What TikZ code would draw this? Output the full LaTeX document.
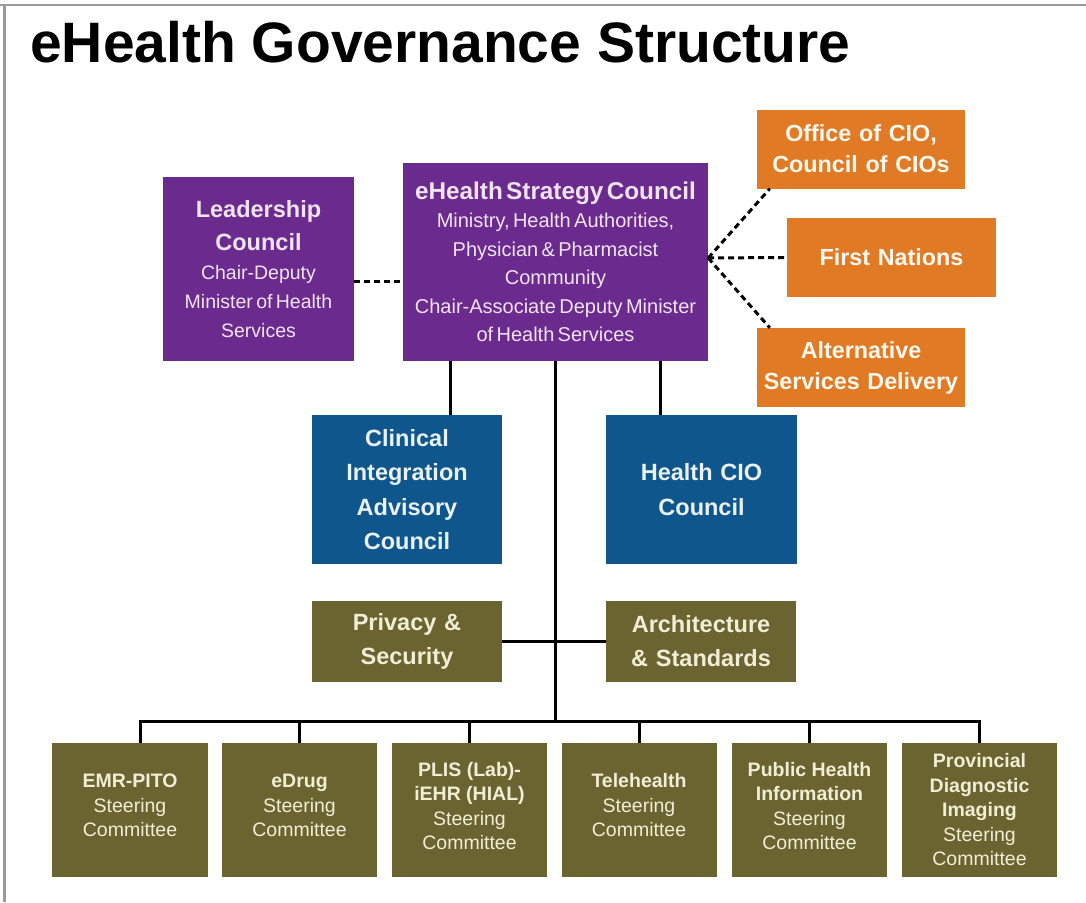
\documentclass[tikz,border=0pt]{standalone}
\usepackage{fontspec}
\setmainfont{Liberation Sans}
\definecolor{cpurple}{HTML}{6A2A8E}
\definecolor{corange}{HTML}{E07A24}
\definecolor{cblue}{HTML}{0E568C}
\definecolor{colive}{HTML}{6A6430}
\definecolor{tpurple}{HTML}{F0E4F2}
\definecolor{torange}{HTML}{FFF8EE}
\definecolor{tblue}{HTML}{EAF2F8}
\definecolor{tolive}{HTML}{F2EDD5}
\definecolor{frame}{HTML}{9A9A9A}
\newcommand{\tbig}{\fontsize{23.5}{33}\selectfont\bfseries}
\newcommand{\tsub}{\fontsize{19.5}{29}\selectfont\mdseries}
\newcommand{\tbot}{\fontsize{19.5}{24.5}\selectfont\bfseries}
\newcommand{\tbotsub}{\fontsize{19.5}{24.5}\selectfont\mdseries}
\newcommand{\botbox}[2]{\raisebox{0pt}[\height][\dimexpr\depth+#1\relax]{\parbox{150pt}{\centering #2\par}}}
\tikzset{
  orgbox/.style={rectangle, inner sep=0pt, align=center},
  pbox/.style={orgbox, fill=cpurple, text=tpurple},
  obox/.style={orgbox, fill=corange, text=torange, minimum width=208pt, minimum height=79pt, text width=200pt, font=\fontsize{23.3}{31}\selectfont\bfseries},
  bbox/.style={orgbox, fill=cblue, text=tblue, minimum width=190pt, minimum height=149pt, text width=184pt, font=\fontsize{23.5}{34.5}\selectfont\bfseries},
  mbox/.style={orgbox, fill=colive, text=tolive, minimum width=190pt, minimum height=81pt, text width=184pt, font=\fontsize{23.5}{34}\selectfont\bfseries},
  sbox/.style={rectangle, inner sep=0pt, fill=colive, text=tolive, minimum width=155pt, minimum height=134pt},
  link/.style={black, line width=3pt},
  dlink/.style={black, line width=3pt, dash pattern=on 6pt off 4pt},
}
\begin{document}
\begin{tikzpicture}[x=1pt, y=-1pt]
\useasboundingbox (0,0) rectangle (1086,902);
\fill[white] (0,0) rectangle (1086,902);
% frame
\draw[frame, line width=2.5pt] (0,5) -- (1086,5);
\draw[frame, line width=2.5pt] (4.5,5) -- (4.5,902);
% title
\node[anchor=base west, inner sep=0pt, font=\fontsize{57}{60}\selectfont\bfseries] (title) at (30,62) {eHealth Governance Structure};
% purple
\node[pbox, minimum width=191pt, minimum height=184pt, text width=186pt] (lead) at (258.5,269)
  {\tbig Leadership\\Council\par\tsub Chair-Deputy\\Minister of Health\\Services\par};
\node[pbox, minimum width=305pt, minimum height=198pt, text width=300pt] (strat) at (555.5,262)
  {\fontsize{24.3}{30}\selectfont\bfseries eHealth Strategy Council\par\fontsize{20}{28.5}\selectfont\mdseries Ministry, Health Authorities,\\Physician \& Pharmacist\\Community\\Chair-Associate Deputy Minister\\of Health Services\par};
% orange
\node[obox] (cio) at (861,149) {Office of CIO,\\Council of CIOs};
\node[obox, minimum width=209pt] (fn) at (891.5,257.5) {First Nations};
\node[obox] (asd) at (861,367.5) {Alternative\\Services Delivery};
% blue
\node[bbox] (clin) at (407,489.5) {Clinical\\Integration\\Advisory\\Council};
\node[bbox, minimum width=191pt] (hcio) at (701.5,489.5) {Health CIO\\Council};
% olive middle
\node[mbox] (priv) at (407,641.5) {Privacy \&\\Security};
\node[mbox] (arch) at (701,641.5) {Architecture\\\& Standards};
% bottom committees
\node[sbox, minimum width=156pt] (b1) at (130,810) {\botbox{9pt}{\tbot EMR-PITO\par\tbotsub Steering\\Committee}};
\node[sbox] (b2) at (299.5,810) {\botbox{9pt}{\tbot eDrug\par\tbotsub Steering\\Committee}};
\node[sbox] (b3) at (469.5,810) {\botbox{8pt}{\tbot PLIS (Lab)-\\iEHR (HIAL)\par\tbotsub Steering\\Committee}};
\node[sbox] (b4) at (639,810) {\botbox{9pt}{\tbot Telehealth\par\tbotsub Steering\\Committee}};
\node[sbox] (b5) at (809.5,810) {\botbox{8pt}{\tbot Public Health\\Information\par\tbotsub Steering\\Committee}};
\node[sbox] (b6) at (979.5,810) {\botbox{0pt}{\tbot Provincial\\Diagnostic\\Imaging\par\tbotsub Steering\\Committee}};
% connectors
\coordinate (busc) at (555.5,721);
\draw[dlink] (lead.east |- 0,281) -- (strat.west |- 0,281);
\coordinate (hub) at ([yshift=4pt]strat.east);
\draw[dlink] (hub) -- ([xshift=13pt]cio.south west);
\draw[dlink] (hub) -- (fn.west);
\draw[dlink] (hub) -- ([xshift=13pt]asd.north west);
\draw[link] ([xshift=43pt]clin.north |- strat.south) -- ([xshift=43pt]clin.north);
\draw[link] ([xshift=-41.5pt]hcio.north |- strat.south) -- ([xshift=-41.5pt]hcio.north);
\draw[link] (strat.south) -- (busc);
\draw[link] (priv.east) -- (arch.west);
\draw[link, line cap=rect] ([xshift=10pt]b1.north |- busc) -- (b6.north |- busc);
\draw[link] ([xshift=10pt]b1.north |- busc) -- ([xshift=10pt]b1.north);
\foreach \b in {b2,b3,b4,b5,b6} { \draw[link] (\b.north |- busc) -- (\b.north); }
\end{tikzpicture}
\end{document}
